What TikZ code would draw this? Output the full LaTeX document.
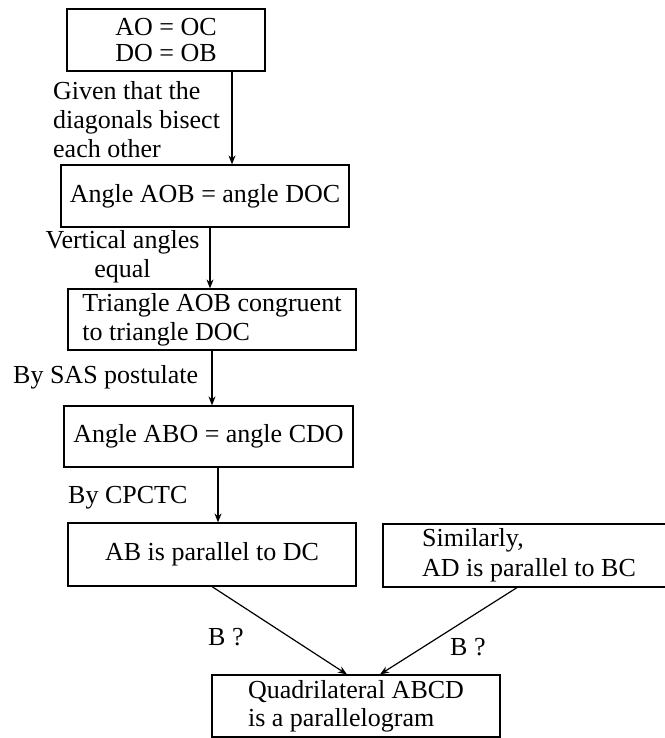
\documentclass[tikz,border=0pt]{standalone}
\usepackage{fontspec}
\setmainfont{Liberation Serif}
\usetikzlibrary{arrows.meta}
\begin{document}
\begin{tikzpicture}[x=1pt,y=-1pt,
  box/.style={draw,line width=1.2pt,inner sep=0pt,align=left,font=\fontsize{26}{29}\selectfont},
  lbl/.style={inner sep=0pt,font=\fontsize{26}{29}\selectfont},
  arr/.style={line width=1.2pt,-{Stealth[length=9pt,width=7pt]}}]
\useasboundingbox (0,0) rectangle (664,738);
% boxes
\node[box,align=center,minimum width=198pt,minimum height=62pt,font=\fontsize{26}{26}\selectfont] (b1) at (166,40) {AO = OC\\DO = OB};
\node[box,minimum width=288pt,minimum height=62pt] (b2) at (205,196) {Angle AOB = angle DOC};
\node[box,minimum width=288pt,minimum height=61pt] (b3) at (212,319.5) {Triangle AOB congruent\\to triangle DOC};
\node[box,minimum width=289pt,minimum height=61pt] (b4) at (208.5,436.5) {Angle ABO = angle CDO};
\node[box,minimum width=288pt,minimum height=63pt] (b5) at (212,554.5) {AB is parallel to DC};
\node[box,minimum width=292pt,minimum height=63pt,font=\fontsize{26}{30}\selectfont] (b6) at (529,555.5) {Similarly,\\AD is parallel to BC};
\node[box,minimum width=288pt,minimum height=62pt,font=\fontsize{26}{28}\selectfont] (b7) at (356,706) {Quadrilateral ABCD\\is a parallelogram};
% connector columns
\coordinate (c1) at (232,0);
\coordinate (c2) at (210,0);
\coordinate (c3) at (212,0);
\coordinate (c4) at (218,0);
\coordinate (c5) at (347,0);
\coordinate (c6) at (380,0);
\coordinate (c7) at (517,0);
\draw[arr] (b1.south -| c1) -- (b2.north -| c1);
\draw[arr] (b2.south -| c2) -- (b3.north -| c2);
\draw[arr] (b3.south -| c3) -- (b4.north -| c3);
\draw[arr] (b4.south -| c4) -- (b5.north -| c4);
\draw[arr] (b5.south) -- (b7.north -| c5);
\draw[arr] (b6.south -| c7) -- (b7.north -| c6);
% labels
\node[lbl,align=left,anchor=north west] (l1) at (53,81) {Given that the\\diagonals bisect\\each other};
\node[lbl,align=center,anchor=north] (l2) at (122.5,230) {Vertical angles\\equal};
\node[lbl,anchor=base west] (l3) at (13,383) {By SAS postulate};
\node[lbl,anchor=base west] (l4) at (68,503) {By CPCTC};
\node[lbl,anchor=base west] (l5) at (208,645) {B ?};
\node[lbl,anchor=base west] (l6) at (450,655) {B ?};
\end{tikzpicture}
\end{document}
